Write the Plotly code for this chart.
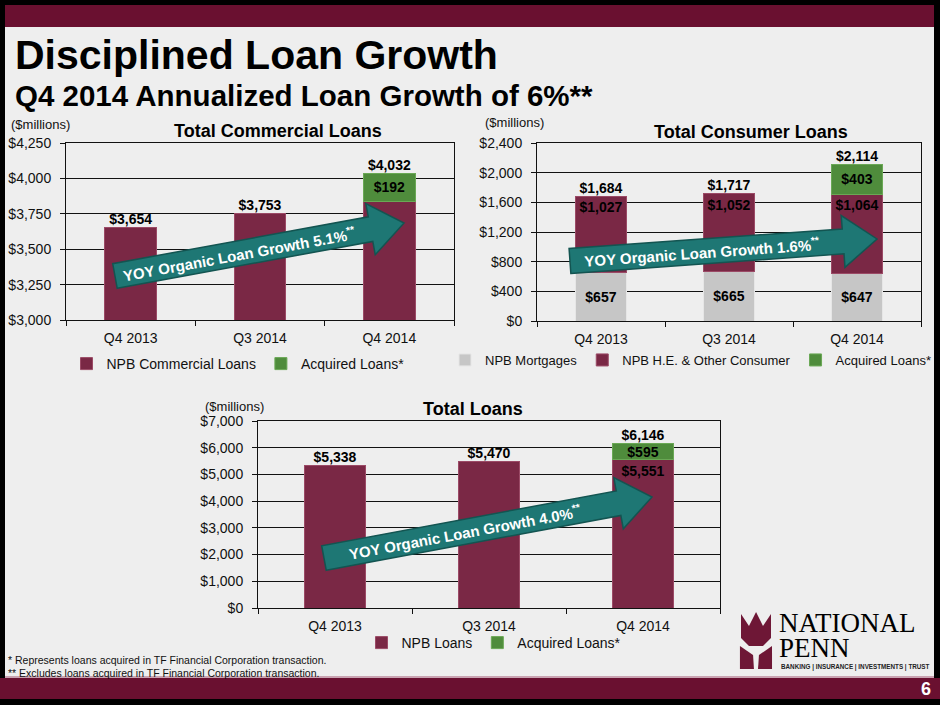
import math
import plotly.graph_objects as go

# values ($ millions)
quarters = ["Q4 2013", "Q3 2014", "Q4 2014"]

comm_npb = [3654, 3753, 3840]
comm_acq = [None, None, 192]

cons_mortgage = [657, 665, 647]
cons_he = [1027, 1052, 1064]
cons_acq = [None, None, 403]

total_npb = [5338, 5470, 5551]
total_acq = [None, None, 595]

growth_labels = ["YOY Organic Loan Growth 5.1%<sup>**</sup>",
                 "YOY Organic Loan Growth 1.6%<sup>**</sup>",
                 "YOY Organic Loan Growth 4.0%<sup>**</sup>"]

W, H = 940, 705
FONT = "Arial, Liberation Sans, sans-serif"
SERIF = "Liberation Serif, DejaVu Serif, serif"
MAROON = "#7a2845"
GREEN = "#4f8c3c"
GREY = "#c6c6c6"
BAND = "#6a1030"
TEAL = "#1e7774"


def px(x):
    return x / W


def py(y):
    return 1 - y / H


def stack_sum(*cols):
    return [sum(v for v in vals if v) for vals in zip(*cols)]


def money(v):
    return f"${v:,}"


def arrow_path(tail, tip, half, head_half, head_len):
    dx, dy = tip[0] - tail[0], tip[1] - tail[1]
    L = math.hypot(dx, dy)
    ux, uy = dx / L, dy / L
    nx, ny = -uy, ux
    bx, by = tip[0] - head_len * ux, tip[1] - head_len * uy
    pts = [(tail[0] + half * nx, tail[1] + half * ny),
           (bx + half * nx, by + half * ny),
           (bx + head_half * nx, by + head_half * ny),
           tip,
           (bx - head_half * nx, by - head_half * ny),
           (bx - half * nx, by - half * ny),
           (tail[0] - half * nx, tail[1] - half * ny)]
    return "M " + " L ".join(f"{px(x):.4f},{py(y):.4f}" for x, y in pts) + " Z"


fig = go.Figure()

bar_text = dict(family=FONT, size=14, color="black", weight="bold")


def seg(y, name, color, edge, text, anchor, ax, legend):
    fig.add_trace(go.Bar(x=quarters, y=y, name=name,
                         marker=dict(color=color, line=dict(color=edge, width=1)),
                         text=text, textposition="inside", insidetextanchor=anchor,
                         textangle=0, constraintext="none", textfont=bar_text,
                         xaxis="x" + ax, yaxis="y" + ax, legend=legend))


def totals(cols, ax):
    tot = stack_sum(*cols)
    fig.add_trace(go.Scatter(x=quarters, y=tot, mode="text", text=[money(v) for v in tot],
                             textposition="top center", textfont=bar_text, cliponaxis=False,
                             showlegend=False, hoverinfo="skip",
                             xaxis="x" + ax, yaxis="y" + ax))


# ---- Total Commercial Loans
seg(comm_npb, "NPB Commercial Loans", MAROON, "#9b4a66",
    [f"{v:,}" if a else "" for v, a in zip(comm_npb, comm_acq)], "middle", "", "legend")
seg(comm_acq, "Acquired Loans*", GREEN, "#6aa855",
    [money(v) if v else "" for v in comm_acq], "middle", "", "legend")
totals([comm_npb, comm_acq], "")

# ---- Total Consumer Loans
seg(cons_mortgage, "NPB Mortgages", GREY, "#e6e6e6",
    [money(v) for v in cons_mortgage], "middle", "2", "legend2")
seg(cons_he, "NPB H.E. & Other Consumer", MAROON, "#9b4a66",
    [money(v) for v in cons_he], "end", "2", "legend2")
seg(cons_acq, "Acquired Loans*", GREEN, "#6aa855",
    [money(v) if v else "" for v in cons_acq], "middle", "2", "legend2")
totals([cons_mortgage, cons_he, cons_acq], "2")

# ---- Total Loans
seg(total_npb, "NPB Loans", MAROON, "#9b4a66",
    [money(v) if a else "" for v, a in zip(total_npb, total_acq)], "end", "3", "legend3")
seg(total_acq, "Acquired Loans*", GREEN, "#6aa855",
    [money(v) if v else "" for v in total_acq], "middle", "3", "legend3")
totals([total_npb, total_acq], "3")

tick_font = dict(family=FONT, size=14, color="#111")
xax = dict(type="category", showline=True, linecolor="#111", linewidth=1, mirror=True,
           ticks="outside", tickson="boundaries", ticklen=5, tickcolor="#111",
           ticklabelstandoff=5, tickfont=tick_font, showgrid=False, fixedrange=True,
           automargin=False)
yax = dict(showline=True, linecolor="#111", linewidth=1, mirror=True,
           ticks="outside", ticklen=5, tickcolor="#111", ticklabelstandoff=6,
           tickfont=tick_font, gridcolor="#111", gridwidth=1, zeroline=False,
           fixedrange=True, automargin=False)

leg = dict(orientation="h", font=dict(family=FONT, size=14, color="#111"),
           bgcolor="rgba(0,0,0,0)", xanchor="center", yanchor="middle",
           traceorder="normal", itemwidth=30)

fig.update_layout(
    width=W, height=H, margin=dict(l=0, r=0, t=0, b=0, autoexpand=False), autosize=False,
    paper_bgcolor="#eeeeee", plot_bgcolor="rgba(0,0,0,0)",
    barmode="stack", bargap=0.6,
    xaxis=dict(xax, domain=[px(66), px(454)], anchor="y"),
    yaxis=dict(yax, domain=[py(320), py(143)], anchor="x", range=[3000, 4250],
               dtick=250, tickprefix="$", tickformat=",d"),
    xaxis2=dict(xax, domain=[px(537), px(921)], anchor="y2"),
    yaxis2=dict(yax, domain=[py(321), py(143)], anchor="x2", range=[0, 2400],
                dtick=400, tickprefix="$", tickformat=",d"),
    xaxis3=dict(xax, domain=[px(258), px(720)], anchor="y3"),
    yaxis3=dict(yax, domain=[py(608), py(421)], anchor="x3", range=[0, 7000],
                dtick=1000, tickprefix="$", tickformat=",d"),
    legend=dict(leg, x=px(238), y=py(364)),
    legend2=dict(leg, x=px(936), y=py(360), xanchor="right",
                 font=dict(family=FONT, size=13, color="#111")),
    legend3=dict(leg, x=px(494), y=py(643)),
    showlegend=True,
)

shapes = []
# slide frame and bands
for x0, y0, x1, y1, c in [(0, 0, W, 5, "black"), (0, 5, W, 27, BAND),
                          (0, 0, 5, H, "black"), (934, 0, W, H, "black"),
                          (0, 678, W, 699, BAND), (0, 699, W, H, "black"),
                          (5, 676, 934, 678, "#c9a3b1")]:
    shapes.append(dict(type="rect", xref="paper", yref="paper", x0=px(x0), x1=px(x1),
                       y0=py(y1), y1=py(y0), fillcolor=c, line=dict(width=0), layer="below"))

# growth arrows
arrows = [((115, 276), (404, 223)), ((570, 261), (877, 239)), ((324, 558), (652, 497))]
for tail, tip in arrows:
    shapes.append(dict(type="path", xref="paper", yref="paper",
                       path=arrow_path(tail, tip, 12.5, 26, 34),
                       fillcolor=TEAL, line=dict(color="#135451", width=1.5), layer="above"))

# logo tulip
tulip = [[(741, 614), (749, 626), (756, 612), (763, 626), (771, 614), (771, 638),
          (763, 646), (749, 646), (741, 638)],
         [(740, 646), (753, 655), (754, 669), (740, 669)],
         [(772, 646), (759, 655), (758, 669), (772, 669)]]
for poly in tulip:
    shapes.append(dict(type="path", xref="paper", yref="paper", fillcolor="#6e1736",
                       line=dict(width=0),
                       path="M " + " L ".join(f"{px(x):.4f},{py(y):.4f}" for x, y in poly) + " Z"))
fig.update_layout(shapes=shapes)


def note(x, y, text, size, color="#111", bold=False, xanchor="left", angle=0, family=FONT):
    fig.add_annotation(x=px(x), y=py(y), xref="paper", yref="paper", text=text,
                       showarrow=False, xanchor=xanchor, yanchor="middle", textangle=angle,
                       font=dict(family=family, size=size, color=color,
                                 weight="bold" if bold else "normal"))


note(13, 55, "Disciplined Loan Growth", 41, color="black", bold=True)
note(13, 96, "Q4 2014 Annualized Loan Growth of 6%**", 29.5, color="black", bold=True)

note(278, 131, "Total Commercial Loans", 18, color="black", bold=True, xanchor="center")
note(751, 132, "Total Consumer Loans", 18, color="black", bold=True, xanchor="center")
note(473, 409, "Total Loans", 18, color="black", bold=True, xanchor="center")

note(9, 124, "($millions)", 13)
note(483, 122, "($millions)", 13)
note(203, 406, "($millions)", 13)

note(6, 660, "* Represents loans acquired in TF Financial Corporation transaction.", 10.5)
note(6, 673, "** Excludes loans acquired in TF Financial Corporation transaction.", 10.5)

# arrow captions
for (tail, tip), label in zip(arrows, growth_labels):
    ang = math.degrees(math.atan2(tip[1] - tail[1], tip[0] - tail[0]))
    cx = tail[0] + 0.43 * (tip[0] - tail[0])
    cy = tail[1] + 0.43 * (tip[1] - tail[1])
    note(cx, cy, label, 15, color="white", bold=True, xanchor="center", angle=ang)

# logo text and page number
note(777, 623, "NATIONAL", 27, color="black", family=SERIF)
note(777, 648, "PENN", 27, color="black", family=SERIF)
note(779, 667, "BANKING | INSURANCE | INVESTMENTS | TRUST", 6.3, color="#222", bold=True)
note(926, 689, "6", 18, color="white", bold=True, xanchor="center")

fig.write_html(
    "out.html",
    config={"displayModeBar": False},
    post_script="document.body.style.margin='0';document.body.style.overflow='hidden';",
)
